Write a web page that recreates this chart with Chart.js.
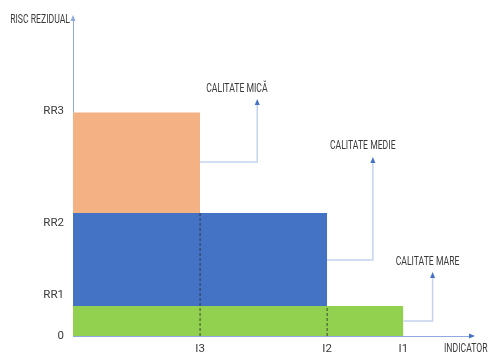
<!DOCTYPE html>
<html>
<head>
<meta charset="utf-8">
<script src="https://cdn.jsdelivr.net/npm/chart.js@4.4.1/dist/chart.umd.min.js"></script>
<style>
  html, body { margin: 0; padding: 0; background: #fff; }
  #wrap { width: 488px; height: 354px; }
</style>
</head>
<body>
<div id="wrap"><canvas id="chart" width="488" height="354"></canvas></div>
<script>
// ticks
var xTickValues = [1, 2, 2.6];
var xTickLabels = ['I3', 'I2', 'I1'];
var yTickValues = [0, 1.35, 3.77, 7.5];
var yTickLabels = ['0', 'RR1', 'RR2', 'RR3'];

// quality levels (high, medium, low)
var levels = ['CALITATE MARE', 'CALITATE MEDIE', 'CALITATE MICĂ'];
var indicatorEnd = [2.6, 2.0, 1.0];
var riskBottom = [0, 1.0, 4.1];
var riskTop = [1.0, 4.1, 7.45];
var levelColors = ['#92d050', '#4472c4', '#f4b183'];

// callout arrows
var calloutX = [[2.6, 2.83, 2.83], [2.0, 2.36, 2.36], [1.0, 1.45, 1.45]];
var calloutY = [[0.5, 0.5, 2.03], [2.53, 2.53, 5.87], [5.8, 5.8, 7.8]];
var labelX = [2.79, 2.28, 1.29];
var labelY = [2.47, 6.33, 8.23];

// dashed guides
var guideX = [1.0, 2.0];
var guideTop = [4.1, 1.0];

var FONT = 'Roboto, "Liberation Sans", sans-serif';
var TEXT = '#3a3a3a';
var AXIS = '#8faadc';
var SQUEEZE = 0.72; // narrow the free labels to match the condensed original

var datasets = [];
for (var i = 0; i < levels.length; i++) {
	datasets.push({
		label: levels[i],
		data: [{ x: 0, y: riskTop[i] }, { x: indicatorEnd[i], y: riskTop[i] }],
		borderWidth: 0,
		pointRadius: 0,
		backgroundColor: levelColors[i],
		fill: { value: riskBottom[i] },
		order: 3
	});
}
for (var g = 0; g < guideX.length; g++) {
	datasets.push({
		label: 'guide' + g,
		data: [{ x: guideX[g], y: 0 }, { x: guideX[g], y: guideTop[g] }],
		borderColor: 'rgba(40,40,40,0.8)',
		borderWidth: 1,
		borderDash: [3, 2],
		pointRadius: 0,
		fill: false,
		order: 1
	});
}
for (var c = 0; c < calloutX.length; c++) {
	var pts = [];
	for (var k = 0; k < calloutX[c].length; k++) {
		pts.push({ x: calloutX[c][k], y: calloutY[c][k] });
	}
	datasets.push({
		label: 'callout' + c,
		data: pts,
		borderColor: '#c5d3ee',
		borderWidth: 1.5,
		pointRadius: 0,
		fill: false,
		order: 2
	});
}

function arrowHead(ctx, x, y, dir, color) {
	ctx.save();
	ctx.fillStyle = color;
	ctx.beginPath();
	if (dir === 'up') {
		ctx.moveTo(x, y - 3);
		ctx.lineTo(x - 2.5, y + 3);
		ctx.lineTo(x + 2.5, y + 3);
	} else {
		ctx.moveTo(x + 3, y);
		ctx.lineTo(x - 3, y - 2.5);
		ctx.lineTo(x - 3, y + 2.5);
	}
	ctx.closePath();
	ctx.fill();
	ctx.restore();
}

// text squeezed horizontally, anchored at x by align
function narrowText(ctx, text, x, y, align) {
	var w = ctx.measureText(text).width * SQUEEZE;
	var left = x;
	if (align === 'center') left = x - w / 2;
	if (align === 'right') left = x - w;
	ctx.save();
	ctx.translate(left, y);
	ctx.scale(SQUEEZE, 1);
	ctx.textAlign = 'left';
	ctx.fillText(text, 0, 0);
	ctx.restore();
}

var decor = {
	id: 'decor',
	afterDraw: function(chart) {
		var ctx = chart.ctx;
		var xs = chart.scales.x, ys = chart.scales.y;
		var area = chart.chartArea;
		arrowHead(ctx, area.left, area.top, 'up', AXIS);
		arrowHead(ctx, area.right, area.bottom, 'right', '#4472c4');
		for (var c = 0; c < calloutX.length; c++) {
			var n = calloutX[c].length - 1;
			arrowHead(ctx, xs.getPixelForValue(calloutX[c][n]), ys.getPixelForValue(calloutY[c][n]), 'up', '#4472c4');
		}
		ctx.save();
		ctx.fillStyle = TEXT;
		ctx.font = '12px ' + FONT;
		ctx.textBaseline = 'middle';
		for (var i = 0; i < levels.length; i++) {
			narrowText(ctx, levels[i], xs.getPixelForValue(labelX[i]), ys.getPixelForValue(labelY[i]), 'center');
		}
		narrowText(ctx, 'RISC REZIDUAL', area.left - 3, area.top + 2, 'right');
		narrowText(ctx, 'INDICATOR', area.right - 28, area.bottom + 13, 'left');
		ctx.restore();
	}
};

new Chart(document.getElementById('chart'), {
	type: 'line',
	data: { datasets: datasets },
	options: {
		responsive: false,
		animation: false,
		events: [],
		layout: { padding: { top: 18, right: 16, left: 0, bottom: 0 } },
		plugins: {
			legend: { display: false },
			tooltip: { enabled: false }
		},
		scales: {
			x: {
				type: 'linear',
				min: 0,
				max: 3.14,
				grid: { display: false, drawTicks: false },
				border: { display: true, color: AXIS, width: 1 },
				afterBuildTicks: function(axis) {
					axis.ticks = xTickValues.map(function(v) { return { value: v }; });
				},
				afterFit: function(axis) { axis.height = 18; },
				ticks: {
					autoSkip: false,
					maxRotation: 0,
					padding: 6,
					color: TEXT,
					font: { family: FONT, size: 11.5 },
					callback: function(v, i) { return xTickLabels[i]; }
				}
			},
			y: {
				type: 'linear',
				min: 0,
				max: 10.6,
				grid: { display: false, drawTicks: false },
				border: { display: true, color: AXIS, width: 1 },
				afterBuildTicks: function(axis) {
					axis.ticks = yTickValues.map(function(v) { return { value: v }; });
				},
				afterFit: function(axis) { axis.width = 73; },
				ticks: {
					autoSkip: false,
					padding: 9,
					color: TEXT,
					font: { family: FONT, size: 11.5 },
					callback: function(v, i) { return yTickLabels[i]; }
				}
			}
		}
	},
	plugins: [decor]
});
</script>
</body>
</html>
